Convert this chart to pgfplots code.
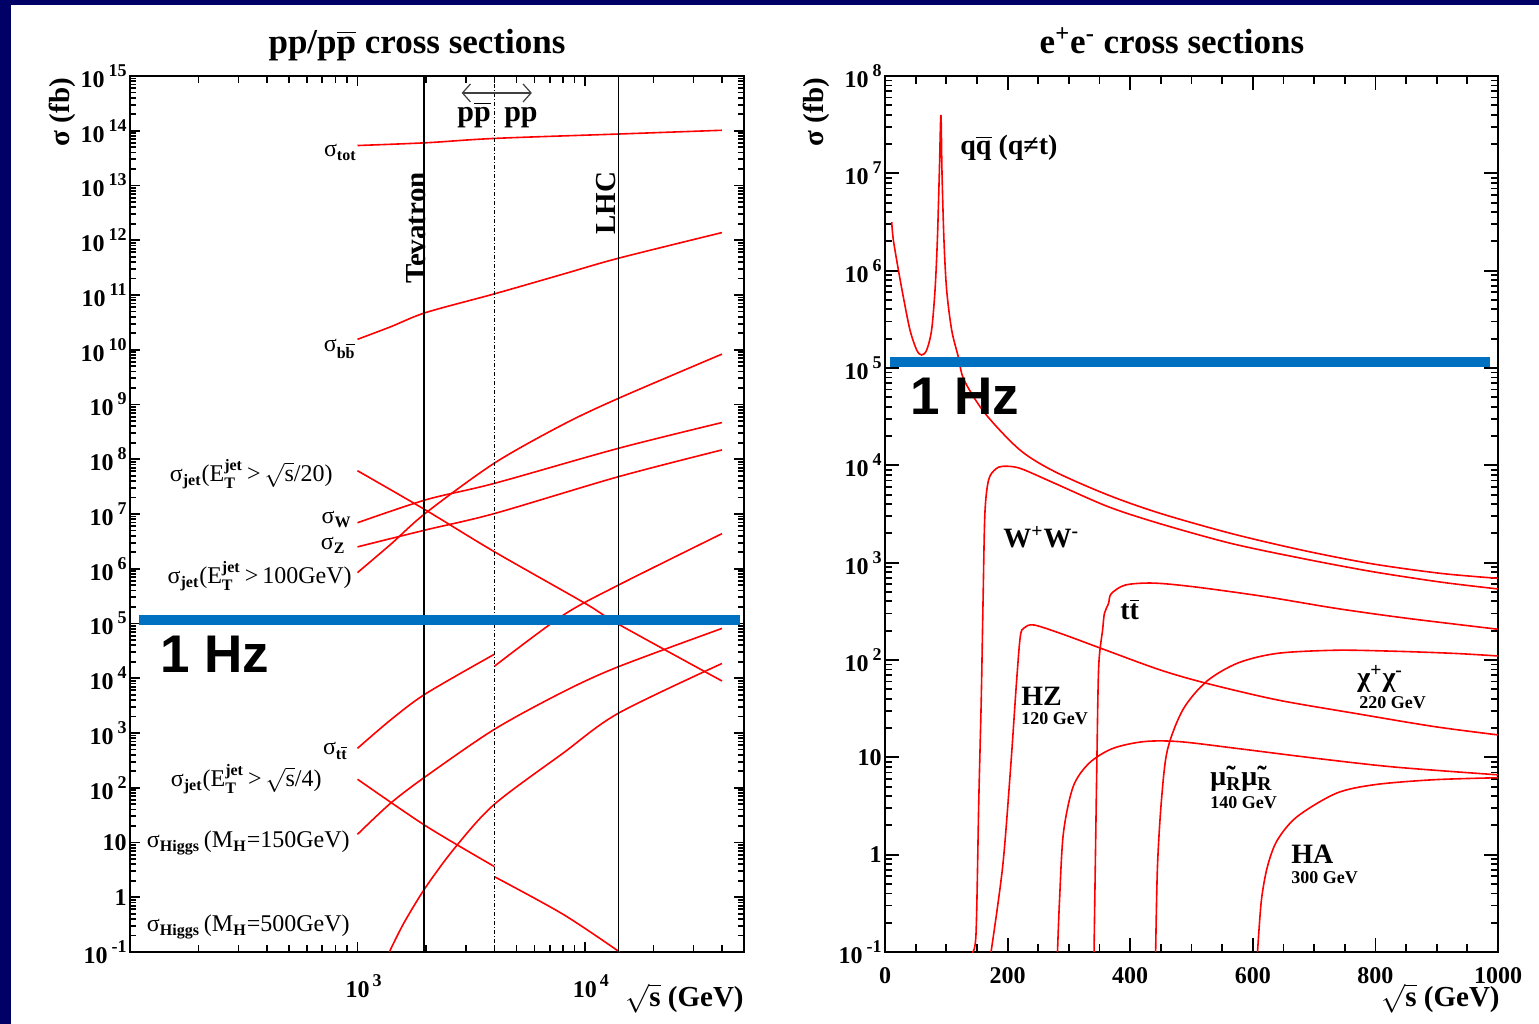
\documentclass[border=0pt]{standalone}
\usepackage{fontspec}
\setmainfont{Liberation Serif}
\newfontfamily\hzfont{Liberation Sans}
\usepackage{amsmath}
\usepackage{pgfplots}
\pgfplotsset{compat=1.18}
\usetikzlibrary{arrows.meta}

\definecolor{navy}{RGB}{0,0,102}
\definecolor{hzblue}{RGB}{0,112,192}

\newcommand{\ob}[1]{$\overline{\mbox{#1}}$}
\newcommand{\supsub}[2]{$^{\text{\bfseries #1}}_{\text{\bfseries #2}}$}
\newcommand{\rs}{$\sqrt{\mbox{s}}$}
\newcommand{\ex}[1]{\raisebox{5.5pt}{\fontsize{9}{9}\selectfont #1}}
\newcommand{\tE}[1]{10\kern2pt\ex{#1}}
\newcommand{\tN}[1]{#1\hspace{9.5pt}}
\newcommand{\ann}{\fontsize{12}{14}\selectfont}
\newcommand{\lab}{\fontsize{14}{16}\selectfont\bfseries}
\newcommand{\sublab}{\fontsize{9}{10}\selectfont\bfseries}

% minor ticks of the log axes, 2..9 in every decade
\def\minorsL{2e-1}
\foreach \m in {3,...,9}{\xdef\minorsL{\minorsL,\m e-1}}
\foreach \e in {0,...,14}{\foreach \m in {2,...,9}{\xdef\minorsL{\minorsL,\m e\e}}}
\def\minorsR{2e-1}
\foreach \m in {3,...,9}{\xdef\minorsR{\minorsR,\m e-1}}
\foreach \e in {0,...,7}{\foreach \m in {2,...,9}{\xdef\minorsR{\minorsR,\m e\e}}}

\tikzset{mt/.style={black, line width=0.9pt}}
\pgfplotsset{
  rootstyle/.style={
    scale only axis,
    axis line style={line width=1pt},
    tick style={black, line width=0.9pt},
    tick label style={font=\fontsize{12}{12}\selectfont\bfseries},
    yticklabel style={anchor=east, inner xsep=0pt, xshift=-1.5pt},
  },
  xs/.style={red, line width=0.8pt, smooth, tension=0.5},
}

\begin{document}
\begin{tikzpicture}
\fill[navy] (0,0) rectangle (769.5pt,512pt);
\fill[white] (5.5pt,0) rectangle (769.5pt,509.5pt);

% ---------------- pp / ppbar ----------------
\begin{axis}[rootstyle, at={(65pt,36pt)}, anchor=south west,
  width=307pt, height=438pt,
  xmode=log, ymode=log, xmin=100, xmax=50000, ymin=0.1, ymax=1e15,
  xtick={100,1000,10000},
  xticklabels={,10\rlap{\kern1.5pt\ex{3}},10\rlap{\kern1.5pt\ex{4}}},
  ytick={1e-1,1,1e1,1e2,1e3,1e4,1e5,1e6,1e7,1e8,1e9,1e10,1e11,1e12,1e13,1e14,1e15},
  yticklabels={\tE{-1},\tN{1},\tN{10},\tE{2},\tE{3},\tE{4},\tE{5},\tE{6},\tE{7},\tE{8},\tE{9},\tE{10},\tE{11},\tE{12},\tE{13},\tE{14},\tE{15}},
  major tick length=5pt,
  xticklabel style={yshift=-8pt},
]
% minor ticks (fixed lengths of about 7 px and 6 px)
\pgfplotsinvokeforeach{200,300,400,500,600,700,800,900,2000,3000,4000,5000,6000,7000,8000,9000,20000,30000,40000}{
  \draw[mt] (axis cs:#1,0.1) -- (axis cs:#1,0.134);
  \draw[mt] (axis cs:#1,1e15) -- (axis cs:#1,7.45e14);
}
\expandafter\pgfplotsinvokeforeach\expandafter{\minorsL}{
  \draw[mt] (axis cs:100,#1) -- (axis cs:106.3,#1);
  \draw[mt] (axis cs:50000,#1) -- (axis cs:47030,#1);
}
% sigma_tot
\addplot[xs] coordinates {(1000,5.37e13) (2000,6.03e13) (4000,7.24e13) (14000,8.71e13) (40000,1.02e14)};
% sigma_bb
\addplot[xs] coordinates {(1000,1.55e10) (1400,2.63e10) (2000,4.79e10) (4000,1.05e11) (8000,2.4e11) (14000,4.68e11) (40000,1.38e12)};
% jet ET > sqrt(s)/20
\addplot[xs] coordinates {(1000,6.17e7) (2000,1.17e7) (4000,2.04e6) (10000,2.34e5) (14000,9.77e4) (40000,8.91e3)};
% W
\addplot[xs] coordinates {(1000,6.92e6) (2000,1.82e7) (4000,3.63e7) (14000,1.58e8) (40000,4.68e8)};
% Z
\addplot[xs] coordinates {(1000,2.51e6) (2000,5.13e6) (4000,1.02e7) (14000,4.79e7) (40000,1.48e8)};
% jet ET > 100 GeV
\addplot[xs] coordinates {(1000,8.51e5) (1400,2.8e6) (2000,1.05e7) (4000,8.51e7) (8000,4.3e8) (14000,1.29e9) (40000,8.32e9)};
% ttbar (ppbar, then pp)
\addplot[xs] coordinates {(1000,525) (1400,1740) (2000,5250) (4000,2.75e4)};
\addplot[xs] coordinates {(4000,1.66e4) (8000,1.41e5) (14000,5.01e5) (40000,4.37e6)};
% jet ET > sqrt(s)/4
\addplot[xs] coordinates {(1000,143) (2000,20.0) (4000,3.63)};
\addplot[xs] coordinates {(4000,2.37) (8000,0.49) (14200,0.1)};
% Higgs 150
\addplot[xs] coordinates {(1000,14.1) (1400,52.5) (2000,162) (4000,1170) (8000,5620) (14000,1.62e4) (40000,8.13e4)};
% Higgs 500
\addplot[xs] coordinates {(1380,0.1) (1600,0.34) (2000,1.55) (2700,8.32) (4000,50.1) (8000,427) (14000,2290) (40000,1.86e4)};
% Tevatron, LHC, ppbar/pp boundary
\addplot[black, line width=0.6pt] coordinates {(1960,0.1) (1960,1e15)};
\addplot[black, line width=0.6pt] coordinates {(14000,0.1) (14000,1e15)};
\addplot[black, line width=0.5pt, dash pattern=on 2pt off 1pt on 0.5pt off 1pt] coordinates {(4000,0.1) (4000,1e15)};
\draw[{Straight Barb[length=4pt,width=9pt]}-{Straight Barb[length=4pt,width=9pt]}, line width=0.6pt, black!75]
  (axis cs:2870,4.9e14) -- (axis cs:5840,4.9e14);
% 1 Hz
\addplot[hzblue, line width=5pt] coordinates {(110,1.15e5) (48200,1.15e5)};
\end{axis}

% ---------------- e+e- ----------------
\begin{axis}[rootstyle, at={(442.5pt,36pt)}, anchor=south west,
  width=306.5pt, height=438pt,
  ymode=log, xmin=0, xmax=1000, ymin=0.1, ymax=1e8,
  xtick={0,200,400,600,800,1000},
  xticklabels={0,200,400,600,800,1000},
  ytick={1e-1,1,1e1,1e2,1e3,1e4,1e5,1e6,1e7,1e8},
  yticklabels={\tE{-1},\tN{1},\tN{10},\tE{2},\tE{3},\tE{4},\tE{5},\tE{6},\tE{7},\tE{8}},
  major tick length=7pt,
  xticklabel style={yshift=-4pt},
]
% minor ticks (about 8 px and 7 px)
\pgfplotsinvokeforeach{50,100,150,250,300,350,450,500,550,650,700,750,850,900,950}{
  \draw[mt] (axis cs:#1,0.1) -- (axis cs:#1,0.1208);
  \draw[mt] (axis cs:#1,1e8) -- (axis cs:#1,8.28e7);
}
\expandafter\pgfplotsinvokeforeach\expandafter{\minorsR}{
  \draw[mt] (axis cs:0,#1) -- (axis cs:11.4,#1);
  \draw[mt] (axis cs:1000,#1) -- (axis cs:988.6,#1);
}
% q qbar
\addplot[xs] coordinates {(10.9,3.16e6) (13.6,2.07e6) (21.8,1.02e6) (29.9,5.37e5) (40.8,2.45e5) (51.7,1.53e5) (59.8,1.36e5) (68,1.53e5) (76,2.45e5) (81.6,6.31e5) (85.4,2.04e6) (88.6,1.0e7) (91.2,3.98e7) (93,1.0e7) (96.2,2.04e6) (100.6,6.31e5) (108.8,2.45e5) (119.6,1.30e5) (129,7.53e4) (163,3.43e4) (220,1.44e4) (277,8610) (364,4950) (449,3210) (564,2000) (679,1350) (793,977) (907,776) (1000,690)};
% W+W-
\addplot[xs] coordinates {(142,0.1) (148.5,0.155) (153,3.63) (157,38.9) (160,417) (163,3240) (169,7080) (180,9100) (192,9770) (220,9330) (277,6530) (364,3760) (449,2510) (564,1580) (679,1110) (793,813) (907,631) (1000,537)};
% HZ
\addplot[xs] coordinates {(173,0.1) (192,0.76) (205,7.94) (214.4,57.5) (220.7,174) (227,214) (243,229) (288,186) (352,132) (448,79.4) (525,57.5) (640,38.9) (768,28.2) (896,20.7) (1000,17.0)};
% t tbar
\addplot[xs] coordinates {(341,0.1) (345.5,7.94) (348.6,85) (355,204) (358,302) (364.6,380) (369,479) (392,589) (438,617) (507,562) (621,447) (736,339) (850,269) (1000,207)};
% chargino pair
\addplot[xs] coordinates {(441.5,0.1) (444.5,0.76) (451,3.63) (460.7,11.9) (486,30.9) (524.6,60.3) (576,93.3) (640,117) (736,126) (832,123) (927.6,117) (1000,110)};
% smuon pair
\addplot[xs] coordinates {(281.4,0.1) (284.7,0.339) (291,1.66) (307,5.01) (333,8.71) (371,12.3) (422,14.5) (480,14.5) (576,12.3) (703,9.77) (832,7.94) (1000,6.61)};
% HA
\addplot[xs] coordinates {(607.7,0.1) (614,0.339) (624,0.76) (640,1.41) (672,2.45) (736,4.27) (800,5.25) (896,5.89) (1000,6.17)};
% 1 Hz
\addplot[hzblue, line width=5pt] coordinates {(8.2,1.15e5) (987,1.15e5)};
\end{axis}

% ---------------- text (pixel coordinates of the reference) ----------------
\begin{scope}[shift={(0,512pt)}, x=0.5pt, y=-0.5pt]
\node[anchor=base, font=\fontsize{17.5}{20}\selectfont\bfseries] at (417,54) {pp/p\ob{p} cross sections};
\node[anchor=base, font=\fontsize{17.5}{20}\selectfont\bfseries] at (1172,54) {e\textsuperscript{+}e\textsuperscript{-} cross sections};
\node[rotate=90, font=\fontsize{14.5}{16}\selectfont\bfseries] at (62,112) {σ (fb)};
\node[rotate=90, font=\fontsize{14.5}{16}\selectfont\bfseries] at (816,112) {σ (fb)};
\node[anchor=base east, inner sep=0pt, font=\fontsize{14.5}{16}\selectfont\bfseries] at (744,1007) {\rs{} (GeV)};
\node[anchor=base east, inner sep=0pt, font=\fontsize{14.5}{16}\selectfont\bfseries] at (1500,1007) {\rs{} (GeV)};
\node[rotate=90, font=\fontsize{14.5}{16}\selectfont\bfseries] at (416,228) {Tevatron};
\node[rotate=90, font=\fontsize{14.5}{16}\selectfont\bfseries] at (606,203) {LHC};
\node[anchor=base, font=\fontsize{15}{16}\selectfont\bfseries] at (474,122) {p\ob{p}};
\node[anchor=base, font=\fontsize{15}{16}\selectfont\bfseries] at (521,122) {pp};
% left annotations
\begin{scope}[every node/.style={anchor=base east, inner sep=0pt, font=\ann}]
\node at (357,157) {σ\textsubscript{\textbf{tot}}};
\node at (356,352) {σ\textsubscript{\textbf{b\ob{b}}}};
\node at (333,482) {σ\textsubscript{\textbf{jet}}(E\supsub{jet}{T}\,>\,\rs/20)};
\node at (352,524) {σ\textsubscript{\textbf{W}}};
\node at (346,550) {σ\textsubscript{\textbf{Z}}};
\node at (352,584) {σ\textsubscript{\textbf{jet}}(E\supsub{jet}{T}\,>\,100GeV)};
\node at (348,755) {σ\textsubscript{\textbf{t\ob{t}}}};
\node at (322,787) {σ\textsubscript{\textbf{jet}}(E\supsub{jet}{T}\,>\,\rs/4)};
\node at (350,848) {σ\textsubscript{\textbf{Higgs}}\,(M\textsubscript{\textbf{H}}=150GeV)};
\node at (350,932) {σ\textsubscript{\textbf{Higgs}}\,(M\textsubscript{\textbf{H}}=500GeV)};
\end{scope}
% right annotations
\begin{scope}[every node/.style={anchor=base west, inner sep=0pt}]
\node[font=\lab] at (960,155) {q\ob{q} (q≠t)};
\node[font=\lab] at (1003,548) {W\textsuperscript{+}W\textsuperscript{-}};
\node[font=\lab] at (1120,620) {t\ob{t}};
\node[font=\lab] at (1021,706) {HZ};
\node[font=\sublab] at (1021,725) {120 GeV};
\node[font=\lab] at (1357,687) {χ\textsuperscript{+}χ\textsuperscript{-}};
\node[font=\sublab] at (1359,709) {220 GeV};
\node[font=\lab] at (1210,786) {\~{μ}\textsubscript{R}\~{μ}\textsubscript{R}};
\node[font=\sublab] at (1210,809) {140 GeV};
\node[font=\lab] at (1291,864) {HA};
\node[font=\sublab] at (1291,884) {300 GeV};
% 1 Hz
\node[font=\hzfont\fontsize{26.5}{28}\selectfont\bfseries] at (160,673) {1 Hz};
\node[font=\hzfont\fontsize{26.5}{28}\selectfont\bfseries] at (910,415) {1 Hz};
\end{scope}
\end{scope}
\end{tikzpicture}
\end{document}
